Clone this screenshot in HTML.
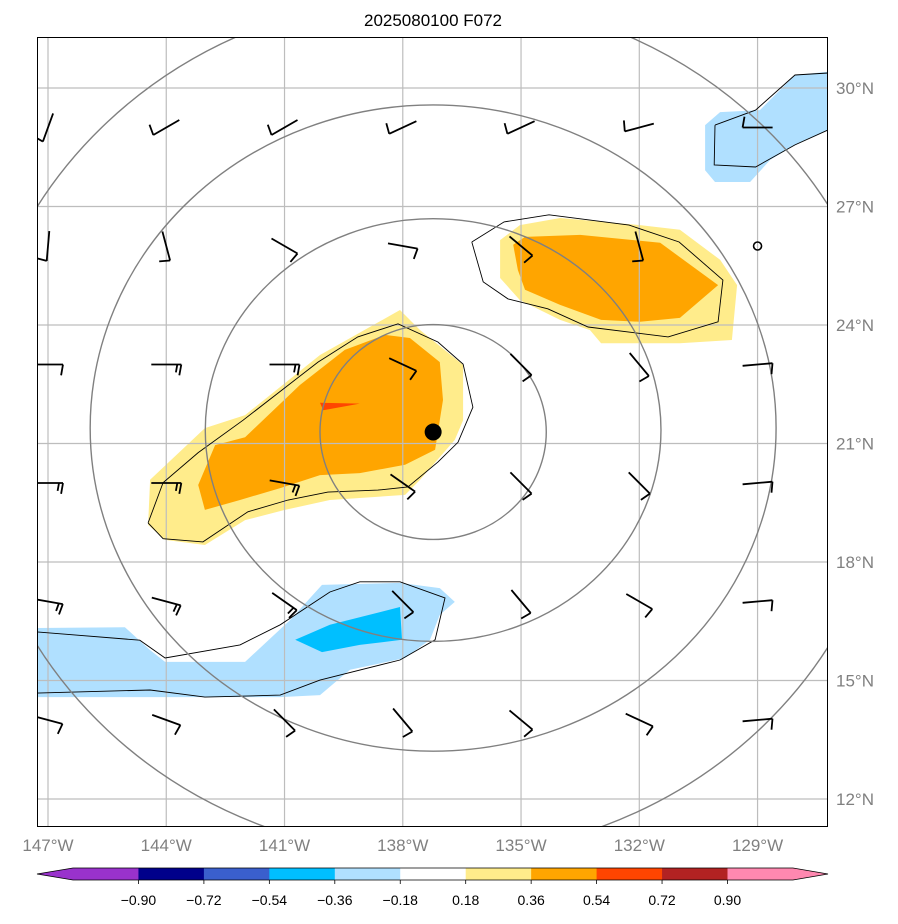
<!DOCTYPE html>
<html><head><meta charset="utf-8">
<style>
html,body{margin:0;padding:0;background:#fff;}
svg{display:block;font-family:"Liberation Sans","DejaVu Sans",sans-serif;}
</style></head>
<body>
<svg id="chart" width="898" height="924" viewBox="0 0 898 924" xmlns="http://www.w3.org/2000/svg">
<text x="433" y="26" font-size="17" text-anchor="middle" fill="#000">2025080100 F072</text>
<defs><clipPath id="mapclip"><rect x="37" y="37" width="791" height="790"/></clipPath></defs>
<g id="map" clip-path="url(#mapclip)"></g>
<rect x="37.5" y="37.5" width="790" height="789" fill="none" stroke="#000" stroke-width="1"/>
<g id="axes"></g>
<g id="cbar"></g>
</svg>
<script>
// ---- data ----
const lonTicks = [-147,-144,-141,-138,-135,-132,-129];
const latTicks = [30,27,24,21,18,15,12];
const lonLabels = ["147°W","144°W","141°W","138°W","135°W","132°W","129°W"];
const latLabels = ["30°N","27°N","24°N","21°N","18°N","15°N","12°N"];
const yellowMain = [[-144.41,20.08],[-143.02,21.39],[-142.00,21.72],[-140.10,23.24],[-138.07,24.38],[-137.56,23.87],[-136.47,22.99],[-136.47,21.59],[-136.68,21.09],[-137.56,20.08],[-137.94,19.70],[-139.85,19.57],[-140.99,19.32],[-142.00,19.06],[-143.02,18.43],[-144.03,18.56],[-144.46,18.94]];
const orangeMain = [[-143.19,19.95],[-142.76,20.96],[-142.00,21.16],[-140.61,22.48],[-139.47,23.37],[-138.45,23.75],[-137.82,23.67],[-137.06,23.06],[-136.98,22.10],[-137.18,20.84],[-137.94,20.46],[-139.09,20.25],[-140.10,20.20],[-141.11,19.87],[-142.13,19.57],[-143.02,19.32]];
const redMain = [[-140.10,22.03],[-139.09,22.01],[-140.02,21.84]];
const yellowNE = [[-135.53,26.15],[-135.03,26.53],[-134.01,26.71],[-131.98,26.53],[-130.97,26.41],[-129.95,25.65],[-129.52,25.01],[-129.65,23.62],[-130.97,23.54],[-132.97,23.54],[-133.25,23.87],[-134.01,24.13],[-135.03,24.63],[-135.53,25.19]];
const orangeNE = [[-135.20,26.03],[-134.90,26.23],[-133.50,26.28],[-131.47,26.08],[-130.00,25.01],[-130.97,24.18],[-131.98,24.08],[-132.97,24.13],[-134.01,24.51],[-134.90,24.89],[-135.08,25.39]];
const blueSouth = [[-147.28,16.33],[-145.05,16.35],[-144.41,15.77],[-144.03,15.47],[-142.00,15.47],[-140.86,16.53],[-140.05,17.42],[-138.07,17.47],[-137.06,17.34],[-136.68,16.99],[-137.06,16.66],[-137.31,16.03],[-137.94,15.57],[-139.34,15.27],[-140.10,14.63],[-141.11,14.58],[-147.28,14.58]];
const deepBlueSouth = [[-140.73,16.03],[-139.85,16.41],[-138.07,16.86],[-138.02,16.03],[-139.09,15.90],[-140.05,15.72]];
const blueNE = [[-130.33,29.06],[-129.95,29.39],[-128.94,29.44],[-128.05,30.33],[-127.21,30.41],[-127.21,28.94],[-128.05,28.56],[-128.68,28.18],[-129.19,27.62],[-130.08,27.62],[-130.33,27.92]];
const contourMain = [[-144.46,18.99],[-144.08,20.01],[-143.19,20.77],[-142.05,21.59],[-140.15,23.06],[-139.14,23.70],[-138.12,24.03],[-137.11,23.57],[-136.47,23.01],[-136.22,21.92],[-136.60,21.03],[-137.11,20.53],[-137.87,19.90],[-138.63,19.82],[-139.90,19.77],[-140.91,19.57],[-141.93,19.27],[-143.07,18.51],[-144.08,18.59],[-144.46,18.99]];
const contourNE = [[-136.25,26.10],[-135.43,26.61],[-134.29,26.79],[-132.26,26.53],[-130.99,26.10],[-129.88,25.14],[-130.00,24.08],[-131.27,23.70],[-133.30,23.95],[-134.32,24.41],[-135.33,24.66],[-135.96,25.09],[-136.25,26.10]];
const contourSouth = [[-147.28,16.23],[-144.67,16.02],[-144.03,15.57],[-142.13,15.90],[-141.11,16.41],[-139.85,17.24],[-139.09,17.50],[-138.07,17.50],[-136.93,17.09],[-137.18,16.03],[-138.07,15.52],[-140.10,15.01],[-141.11,14.63],[-143.02,14.58],[-144.41,14.76],[-147.28,14.68]];
const contourNEBlue = [[-130.08,29.06],[-129.05,29.44],[-128.05,30.33],[-127.21,30.38],[null,null],[-127.21,28.94],[-128.05,28.56],[-129.05,28.00],[-130.10,28.05],[-130.08,29.06]];
const stormCenter = [-137.23,21.29];
const ringRxDeg = [2.87,5.78,8.7,11.67];
const ringRyDeg = [2.72,5.35,8.18,10.9];
const barbLons = [-147,-144,-141,-138,-135,-132,-129];
const barbLats = [29,26,23,20,17,14];
const barbDir = [
 [110,150,150,155,155,165,180],
 [95,75,30,10,40,75,null],
 [0,0,0,25,45,50,-5],
 [0,0,10,35,45,45,-5],
 [10,15,35,45,50,30,-5],
 [15,20,45,50,40,25,-5]];
const barbTicks = [
 [1,1,1,1,1,1,1],
 [1,1,1,1,1,1,0],
 [1,2,2,1,1,1,1],
 [2,2,2,1,1,1,1],
 [2,2,2,1,1,1,1],
 [1,1,1,1,1,1,1]];
const cbColors = ["#9932cc","#00008b","#3a5fcd","#00bfff","#b0e0ff","#ffffff","#ffec8b","#ffa500","#ff4500","#b22222","#ff88b0"];
const cbLabels = ["−0.90","−0.72","−0.54","−0.36","−0.18","0.18","0.36","0.54","0.72","0.90"];

// ---- axis functions ----
const x = lon => 48 + (lon + 147) * 39.42;
const y = lat => 88 + (30 - lat) * 39.5;
const NS = "http://www.w3.org/2000/svg";
function mk(tag, attrs, parent){ const e=document.createElementNS(NS,tag); for(const k in attrs) e.setAttribute(k,attrs[k]); parent.appendChild(e); return e; }
const map = document.getElementById('map');
const axes = document.getElementById('axes');
const cbar = document.getElementById('cbar');
function pts(arr){ return arr.map(p=>x(p[0]).toFixed(1)+','+y(p[1]).toFixed(1)).join(' '); }
function poly(arr, fill, name){ const e=mk('polygon',{points:pts(arr),fill:fill},map);
 
  }
function line(arr, name){ let d=''; let pen=false; arr.forEach(p=>{ if(p[0]===null){pen=false;return;} d+=(pen?'L':'M')+x(p[0]).toFixed(1)+' '+y(p[1]).toFixed(1); pen=true; });
 const e=mk('path',{d:d,fill:'none',stroke:'#000','stroke-width':0.9},map);
 
  }

poly(blueSouth,"#b0e0ff","fill-blue-south");
poly(deepBlueSouth,"#00bfff","fill-deepblue-south");
poly(blueNE,"#b0e0ff","fill-blue-ne");
poly(yellowMain,"#ffec8b","fill-yellow-main");
poly(orangeMain,"#ffa500","fill-orange-main");
poly(redMain,"#ff4500","fill-red-main");
poly(yellowNE,"#ffec8b","fill-yellow-ne");
poly(orangeNE,"#ffa500","fill-orange-ne");

// grid
lonTicks.forEach(l=>{ const e=mk('line',{x1:x(l),x2:x(l),y1:37,y2:827,stroke:'#bdbdbd','stroke-width':1.2},map);
 
  });
latTicks.forEach(l=>{ const e=mk('line',{x1:37,x2:828,y1:y(l),y2:y(l),stroke:'#bdbdbd','stroke-width':1.2},map);
 
  });

line(contourMain,"contour-main");
line(contourNE,"contour-ne");
line(contourSouth,"contour-south");
line(contourNEBlue,"contour-ne-blue");

// range rings
const cx=x(stormCenter[0]), cy=y(stormCenter[1]);
ringRxDeg.forEach((r,i)=>{ const e=mk('ellipse',{cx:cx,cy:cy-2*i,rx:r*39.42,ry:ringRyDeg[i]*39.5,fill:'none',stroke:'#808080','stroke-width':1.4},map);
 
  });

// barbs
barbLats.forEach((lat,i)=>barbLons.forEach((lon,j)=>{
 const px=x(lon), py=y(lat); const d=barbDir[i][j];
 if(d===null){ const c=mk('circle',{cx:px,cy:py,r:4,fill:'none',stroke:'#000','stroke-width':1.6},map);
  
   return; }
 const a=d*Math.PI/180, L=15;
 const ex=px+Math.cos(a)*L, ey=py+Math.sin(a)*L, sx=px-Math.cos(a)*L, sy=py-Math.sin(a)*L;
 let dd=`M${sx.toFixed(1)} ${sy.toFixed(1)}L${ex.toFixed(1)} ${ey.toFixed(1)}`;
 const ta=a+100*Math.PI/180;
 for(let k=0;k<barbTicks[i][j];k++){ const bx=ex-Math.cos(a)*4*k, by=ey-Math.sin(a)*4*k; const tl=k?8:11;
  dd+=`M${bx.toFixed(1)} ${by.toFixed(1)}L${(bx+Math.cos(ta)*tl).toFixed(1)} ${(by+Math.sin(ta)*tl).toFixed(1)}`; }
 const e=mk('path',{d:dd,fill:'none',stroke:'#000','stroke-width':1.8},map);
 
 
}));

// storm center
const dot=mk('circle',{cx:cx,cy:cy,r:8.5,fill:'#000'},map);



// axis labels
lonTicks.forEach((l,i)=>{ const t=mk('text',{x:x(l),y:851,'font-size':17,'text-anchor':'middle',fill:'#808080'},axes); t.textContent=lonLabels[i];
 
  });
latTicks.forEach((l,i)=>{ const t=mk('text',{x:836,y:y(l)+6,'font-size':17,'text-anchor':'start',fill:'#808080'},axes); t.textContent=latLabels[i];
 
  });

// colorbar
const cbx0=73, cbw=65.45, cby=868, cbh=12;
cbColors.forEach((c,i)=>{ const r=mk('rect',{x:cbx0+i*cbw,y:cby,width:cbw+0.5,height:cbh,fill:c},cbar);
 
  });
const lt=mk('polygon',{points:`${cbx0},${cby} ${cbx0},${cby+cbh} 37,${cby+cbh/2}`,fill:cbColors[0]},cbar);


const xe=cbx0+11*cbw;
const rt=mk('polygon',{points:`${xe},${cby} ${xe},${cby+cbh} 828,${cby+cbh/2}`,fill:cbColors[10]},cbar);


const ol=mk('polygon',{points:`37,${cby+cbh/2} ${cbx0},${cby} ${xe},${cby} 828,${cby+cbh/2} ${xe},${cby+cbh} ${cbx0},${cby+cbh}`,fill:'none',stroke:'#000','stroke-width':0.8},cbar);


cbLabels.forEach((s,i)=>{ const tx=cbx0+(i+1)*cbw;
 const tk=mk('line',{x1:tx,x2:tx,y1:cby+cbh,y2:cby+cbh+4,stroke:'#000','stroke-width':0.8},cbar);
 
 
 const t=mk('text',{x:tx,y:905,'font-size':14,'text-anchor':'middle',fill:'#000'},cbar); t.textContent=s;
 
  });
</script>
</body></html>
